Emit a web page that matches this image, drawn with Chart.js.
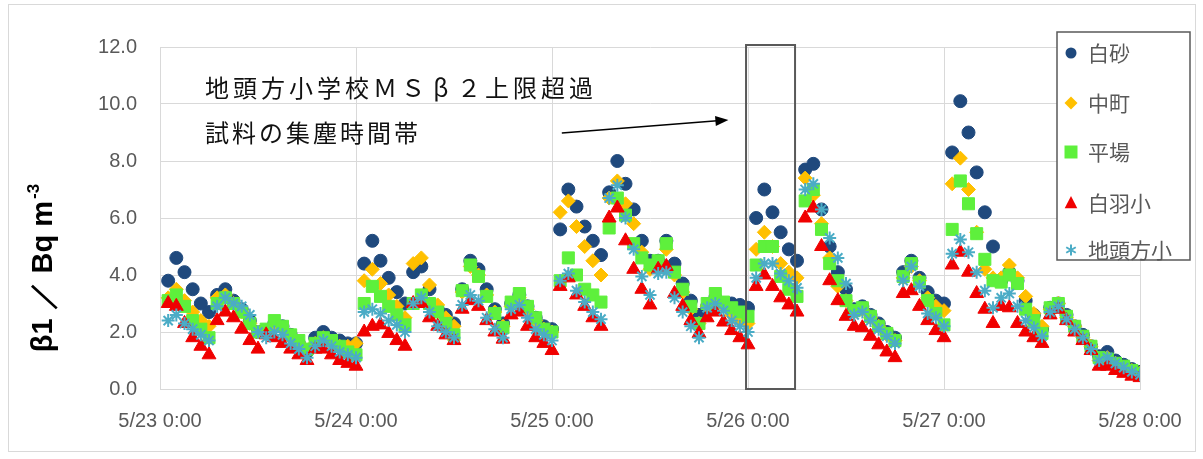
<!DOCTYPE html>
<html>
<head>
<meta charset="utf-8">
<script src="https://cdn.jsdelivr.net/npm/chart.js@4.4.0/dist/chart.umd.min.js"></script>
<style>
  html, body { margin: 0; padding: 0; background: #fff; }
  #wrap { position: relative; width: 1203px; height: 459px; }
</style>
</head>
<body>
<div id="wrap"><canvas id="chart"></canvas></div>
<script>
// x axis: hours since 5/23 0:00, one sample per hour (1..120)
const xTickLabels = ['5/23 0:00', '5/24 0:00', '5/25 0:00', '5/26 0:00', '5/27 0:00', '5/28 0:00'];
const seriesNames = ['白砂', '中町', '平場', '白羽小', '地頭方小'];

// values, one row = 6 hours
const shirasuna = [
  3.8, 4.6, 4.1, 3.5, 3.0, 2.7,   3.3, 3.5, 3.1, 2.8, 2.4, 2.0,
  2.0, 2.3, 2.2, 1.9, 1.6, 1.3,   1.8, 2.0, 1.8, 1.7, 1.6, 1.6,
  4.4, 5.2, 4.5, 3.9, 3.4, 3.0,   4.1, 4.3, 3.5, 2.8, 2.6, 2.3,
  3.5, 4.5, 4.2, 3.5, 2.8, 2.3,   3.0, 3.3, 2.9, 2.5, 2.2, 2.1,
  5.6, 7.0, 6.4, 5.7, 5.2, 4.7,   6.9, 8.0, 7.2, 6.3, 5.2, 4.5,
  4.5, 5.2, 4.4, 3.7, 3.1, 2.6,   2.9, 3.2, 3.0, 3.0, 2.95, 2.85,
  6.0, 7.0, 6.2, 5.5, 4.9, 4.5,   7.7, 7.9, 6.3, 5.0, 4.1, 3.5,
  2.8, 2.9, 2.6, 2.3, 2.0, 1.8,   4.1, 4.5, 3.9, 3.4, 3.1, 3.0,
  8.3, 10.1, 9.0, 7.6, 6.2, 5.0,  3.8, 4.1, 3.8, 3.1, 2.6, 2.1,
  2.85, 3.0, 2.6, 2.2, 1.9, 1.5,  1.15, 1.3, 1.0, 0.85, 0.7, 0.6
];
const nakacho = [
  3.2, 3.5, 3.1, 2.7, 2.4, 2.2,   3.2, 3.3, 3.0, 2.7, 2.3, 2.0,
  2.0, 2.2, 2.1, 1.8, 1.6, 1.3,   1.6, 1.8, 1.6, 1.5, 1.5, 1.6,
  3.8, 4.2, 3.7, 3.3, 2.9, 2.5,   4.4, 4.6, 3.65, 2.95, 2.5, 2.2,
  3.4, 4.3, 4.0, 3.3, 2.7, 2.2,   2.9, 3.2, 2.8, 2.4, 2.1, 2.0,
  6.2, 6.6, 5.7, 5.0, 4.5, 4.0,   6.7, 7.3, 6.5, 5.8, 4.8, 4.2,
  4.3, 4.9, 4.0, 3.4, 2.8, 2.3,   2.9, 3.1, 2.9, 2.6, 2.4, 2.3,
  4.9, 5.5, 5.0, 4.4, 4.1, 3.9,   7.4, 6.8, 5.8, 4.6, 3.6, 3.1,
  2.7, 2.8, 2.5, 2.2, 1.9, 1.7,   3.9, 4.3, 3.8, 3.2, 2.9, 2.75,
  7.2, 8.1, 7.0, 5.5, 4.2, 3.9,   3.9, 4.35, 3.9, 3.25, 2.65, 2.2,
  2.8, 3.0, 2.5, 2.2, 1.8, 1.5,   1.0, 1.1, 0.9, 0.75, 0.65, 0.55
];
const hiraba = [
  3.1, 3.3, 2.9, 2.4, 2.1, 1.8,   3.0, 3.2, 3.0, 2.7, 2.3, 2.0,
  2.1, 2.4, 2.2, 1.9, 1.7, 1.4,   1.6, 1.8, 1.7, 1.5, 1.3, 1.2,
  3.0, 3.6, 3.25, 2.9, 2.6, 2.25, 3.0, 3.3, 3.0, 2.7, 2.3, 1.9,
  3.45, 4.35, 3.95, 3.25, 2.65, 2.15, 3.05, 3.35, 2.9, 2.5, 2.1, 2.0,
  3.8, 4.6, 4.0, 3.5, 3.3, 3.05,  5.65, 6.7, 6.1, 5.1, 4.6, 4.35,
  4.5, 5.1, 4.1, 3.5, 2.9, 2.3,   3.0, 3.35, 3.05, 2.85, 2.7, 2.55,
  4.35, 5.0, 5.0, 3.95, 3.5, 3.25, 6.6, 7.0, 5.6, 4.4, 3.8, 3.1,
  2.75, 2.85, 2.55, 2.2, 1.95, 1.7, 3.95, 4.4, 3.75, 3.1, 2.65, 2.25,
  5.6, 7.3, 6.5, 5.45, 4.55, 3.8, 3.75, 4.0, 3.7, 2.8, 2.4, 1.95,
  2.85, 3.0, 2.55, 2.2, 1.85, 1.5, 1.1, 1.05, 0.9, 0.8, 0.65, 0.55
];
const shirahasho = [
  3.0, 2.9, 2.3, 1.8, 1.5, 1.2,   2.4, 2.7, 2.5, 2.1, 1.7, 1.4,
  1.9, 1.8, 1.6, 1.4, 1.2, 1.0,   1.4, 1.4, 1.2, 1.0, 0.9, 0.8,
  2.0, 2.2, 2.25, 1.95, 1.7, 1.5, 3.0, 3.0, 2.5, 2.2, 1.9, 1.7,
  2.8, 3.1, 2.9, 2.4, 2.0, 1.75, 2.6, 2.7, 2.2, 1.8, 1.6, 1.35,
  3.6, 3.9, 3.3, 2.9, 2.5, 2.2,   6.0, 6.35, 5.2, 4.2, 3.5, 2.95,
  4.2, 4.3, 3.35, 2.9, 2.4, 1.95, 2.5, 2.7, 2.35, 2.05, 1.8, 1.55,
  3.6, 4.0, 3.6, 3.2, 2.95, 2.7,  6.0, 6.35, 5.0, 3.8, 3.1, 2.55,
  2.2, 2.15, 1.85, 1.55, 1.3, 1.1, 3.35, 3.45, 2.9, 2.4, 2.05, 1.8,
  4.35, 4.8, 4.1, 3.35, 2.8, 2.3, 2.9, 2.85, 2.3, 2.0, 1.8, 1.6,
  2.6, 2.8, 2.4, 2.0, 1.7, 1.35,  0.8, 0.8, 0.65, 0.55, 0.45, 0.4
];
const jitogatasho = [
  2.4, 2.6, 2.3, 2.1, 1.9, 1.7,   2.9, 3.2, 3.0, 2.9, 2.6, 2.0,
  1.8, 2.0, 1.9, 1.6, 1.4, 1.1,   1.5, 1.7, 1.5, 1.3, 1.2, 1.1,
  2.7, 2.8, 2.65, 2.4, 2.25, 2.0, 3.0, 3.2, 2.7, 2.2, 2.0, 1.8,
  2.95, 3.3, 3.1, 2.5, 2.1, 1.8,  2.8, 2.95, 2.5, 2.1, 1.9, 1.7,
  3.8, 4.05, 3.45, 3.05, 2.7, 2.45, 6.7, 7.15, 6.0, 4.9, 3.95, 3.3,
  4.05, 4.1, 3.2, 2.7, 2.2, 1.8,  2.85, 3.0, 2.75, 2.4, 2.2, 2.0,
  3.9, 4.4, 4.4, 4.05, 3.8, 3.55, 7.0, 7.2, 6.3, 5.3, 4.6, 3.7,
  2.6, 2.7, 2.4, 2.1, 1.85, 1.6,  3.8, 4.3, 3.6, 2.65, 2.5, 2.2,
  4.75, 5.25, 4.8, 4.1, 3.45, 2.85, 3.2, 3.35, 2.9, 2.4, 2.15, 1.85,
  2.7, 2.9, 2.45, 2.1, 1.8, 1.4,  1.0, 1.1, 0.9, 0.75, 0.6, 0.5
];

// annotation: box around the sampling period, in axis units
const boxRange = [71.76, 77.76];
const noteLines = ['地頭方小学校ＭＳβ２上限超過', '試料の集塵時間帯'];

const styles = [
  { color: '#1F497D', shape: 'circle', r: 6.5 },
  { color: '#FFC000', shape: 'rectRot', r: 7 },
  { color: '#5EF03C', shape: 'rect', r: 8.5 },
  { color: '#F00000', shape: 'triangle', r: 8 },
  { color: '#4BACC6', shape: 'star', r: 6.5 },
];
const allSeries = [shirasuna, nakacho, hiraba, shirahasho, jitogatasho];

const toPoints = (arr) => arr.map((v, i) => ({ x: i + 1, y: v }));

// draw a legend marker by hand
function drawMarker(ctx, shape, x, y, r, color) {
  ctx.save();
  ctx.fillStyle = color;
  ctx.strokeStyle = color;
  ctx.beginPath();
  if (shape === 'circle') {
    ctx.arc(x, y, r, 0, Math.PI * 2);
    ctx.fill();
  } else if (shape === 'rectRot') {
    ctx.moveTo(x, y - r); ctx.lineTo(x + r, y); ctx.lineTo(x, y + r); ctx.lineTo(x - r, y);
    ctx.closePath(); ctx.fill();
  } else if (shape === 'rect') {
    ctx.rect(x - r, y - r, 2 * r, 2 * r);
    ctx.fill();
  } else if (shape === 'triangle') {
    ctx.moveTo(x, y - r); ctx.lineTo(x + r * 0.9, y + r * 0.75); ctx.lineTo(x - r * 0.9, y + r * 0.75);
    ctx.closePath(); ctx.fill();
  } else {
    ctx.lineWidth = 2;
    for (let a = 0; a < 3; a++) {
      const ang = Math.PI / 2 + a * Math.PI / 3;
      ctx.moveTo(x - Math.cos(ang) * r, y - Math.sin(ang) * r);
      ctx.lineTo(x + Math.cos(ang) * r, y + Math.sin(ang) * r);
    }
    ctx.stroke();
  }
  ctx.restore();
}

// text in fixed-width cells, each char centred (letterSpacing isn't reliable)
function spacedText(ctx, text, x, y, step) {
  ctx.textAlign = 'center';
  [...text].forEach((ch, i) => ctx.fillText(ch, x + i * step + 12, y));
  ctx.textAlign = 'left';
}

const overlay = {
  id: 'overlay',
  beforeDraw(chart) {
    const ctx = chart.ctx;
    ctx.save();
    ctx.strokeStyle = '#d9d9d9';
    ctx.lineWidth = 1;
    ctx.strokeRect(8.5, 4.5, 1187, 447);
    ctx.restore();
  },
  afterDraw(chart) {
    const { ctx, scales: { x, y } } = chart;
    ctx.save();

    // y axis title
    ctx.translate(44, 268);
    ctx.rotate(-Math.PI / 2);
    ctx.fillStyle = '#000';
    ctx.textBaseline = 'middle';
    ctx.textAlign = 'left';
    const bigFont = 'bold 29px "Liberation Sans", Arial, sans-serif';
    const supFont = 'bold 17px "Liberation Sans", Arial, sans-serif';
    const parts = ['β1', '／', 'Bq m'];
    ctx.font = bigFont;
    const widths = parts.map((p) => ctx.measureText(p).width);
    ctx.font = supFont;
    const wSup = ctx.measureText('-3').width;
    const gap = 8;
    const total = widths.reduce((a, b) => a + b, 0) + gap * 2 + wSup + 2;
    let cx = -total / 2;
    ctx.font = bigFont;
    parts.forEach((p, i) => {
      ctx.fillText(p, cx, 0);
      cx += widths[i] + (i < 2 ? gap : 0);
    });
    ctx.font = supFont;
    ctx.fillText('-3', cx + 2, -10);
    ctx.restore();

    // highlight box
    ctx.save();
    const bx1 = x.getPixelForValue(boxRange[0]);
    const bx2 = x.getPixelForValue(boxRange[1]);
    const by1 = y.getPixelForValue(12.07);
    const by2 = y.getPixelForValue(0);
    ctx.strokeStyle = '#595959';
    ctx.lineWidth = 2;
    ctx.strokeRect(bx1, by1, bx2 - bx1, by2 - by1);

    // note text
    ctx.fillStyle = '#111';
    ctx.textBaseline = 'middle';
    ctx.font = '24px "Noto Sans CJK JP", sans-serif';
    spacedText(ctx, noteLines[0], x.getPixelForValue(5.5), y.getPixelForValue(10.56), 28);
    spacedText(ctx, noteLines[1], x.getPixelForValue(5.5), y.getPixelForValue(8.98), 27);

    // arrow
    const ax1 = x.getPixelForValue(49.2), ay1 = y.getPixelForValue(8.98);
    const ax2 = x.getPixelForValue(69.6), ay2 = y.getPixelForValue(9.44);
    const ang = Math.atan2(ay2 - ay1, ax2 - ax1);
    ctx.strokeStyle = '#000';
    ctx.lineWidth = 1.5;
    ctx.beginPath();
    ctx.moveTo(ax1, ay1);
    ctx.lineTo(ax2 - Math.cos(ang) * 8, ay2 - Math.sin(ang) * 8);
    ctx.stroke();
    ctx.fillStyle = '#000';
    ctx.beginPath();
    ctx.moveTo(ax2, ay2);
    ctx.lineTo(ax2 - Math.cos(ang) * 13 + Math.sin(ang) * 5, ay2 - Math.sin(ang) * 13 - Math.cos(ang) * 5);
    ctx.lineTo(ax2 - Math.cos(ang) * 13 - Math.sin(ang) * 5, ay2 - Math.sin(ang) * 13 + Math.cos(ang) * 5);
    ctx.closePath();
    ctx.fill();

    // legend box
    ctx.fillStyle = '#fff';
    ctx.fillRect(1057, 32, 133, 228);
    ctx.strokeStyle = '#595959';
    ctx.lineWidth = 1.5;
    ctx.strokeRect(1057, 32, 133, 228);
    const rows = [53, 103, 152, 203, 250];
    const legendR = [5.5, 6.5, 6.5, 7, 5.5];
    ctx.font = '21px "Noto Sans CJK JP", sans-serif';
    ctx.textBaseline = 'middle';
    ctx.textAlign = 'left';
    seriesNames.forEach((name, i) => {
      drawMarker(ctx, styles[i].shape, 1071, rows[i], legendR[i], styles[i].color);
      ctx.fillStyle = '#595959';
      ctx.fillText(name, 1088, rows[i]);
    });
    ctx.restore();
  },
};

new Chart(document.getElementById('chart'), {
  type: 'scatter',
  data: {
    datasets: allSeries.map((arr, i) => ({
      label: seriesNames[i],
      data: toPoints(arr),
      pointStyle: styles[i].shape,
      pointRadius: styles[i].r,
      backgroundColor: styles[i].color,
      borderColor: styles[i].color,
      borderWidth: styles[i].shape === 'star' ? 2 : 1,
      order: 5 - i,
    })),
  },
  options: {
    responsive: true,
    maintainAspectRatio: false,
    animation: false,
    events: [],
    layout: { padding: { top: 47, right: 63, left: 0, bottom: 0 } },
    plugins: {
      legend: { display: false },
      tooltip: { enabled: false },
    },
    scales: {
      x: {
        type: 'linear',
        min: 0,
        max: 120,
        afterBuildTicks: (s) => { s.ticks = xTickLabels.map((_, i) => ({ value: i * 24 })); },
        afterFit: (s) => { s.height = 70; },
        ticks: {
          callback: (v) => xTickLabels[Math.round(v / 24)],
          color: '#595959',
          padding: 20,
          maxRotation: 0,
          font: { size: 20, family: '"Liberation Sans", Arial, sans-serif' },
        },
        grid: { color: '#d9d9d9', drawTicks: false },
        border: { color: '#d9d9d9' },
      },
      y: {
        min: 0,
        max: 12,
        afterFit: (s) => { s.width = 160; },
        ticks: {
          stepSize: 2,
          callback: (v) => v.toFixed(1),
          color: '#595959',
          padding: 23,
          font: { size: 20, family: '"Liberation Sans", Arial, sans-serif' },
        },
        grid: { color: '#d9d9d9', drawTicks: false },
        border: { color: '#d9d9d9' },
      },
    },
  },
  plugins: [overlay],
});
</script>
</body>
</html>
